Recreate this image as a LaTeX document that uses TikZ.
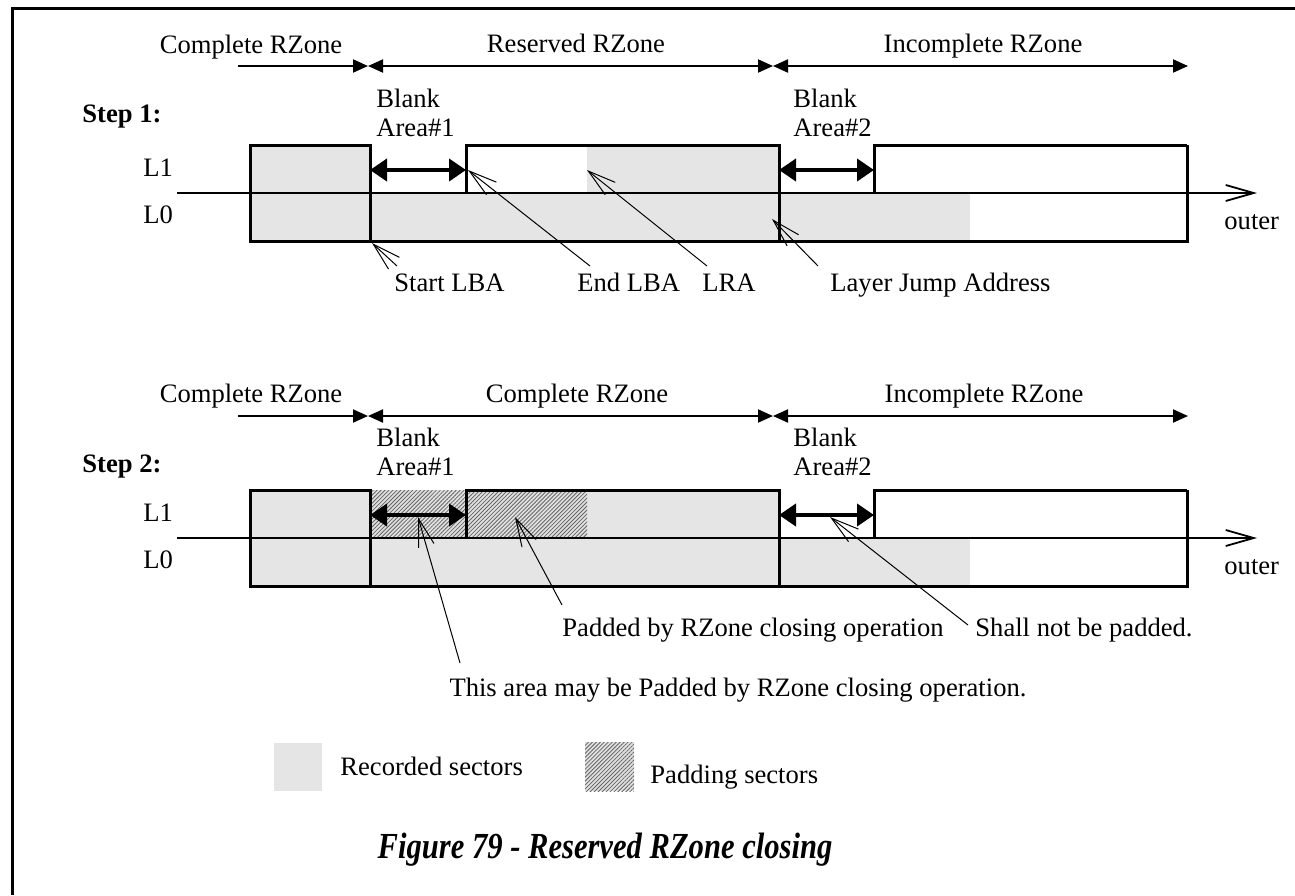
\documentclass[tikz,border=0pt]{standalone}
\usepackage{fontspec}
\setmainfont{Liberation Serif}
\usepackage{graphicx}
\usetikzlibrary{arrows.meta,patterns.meta}

\begin{document}
\begin{tikzpicture}[x=0.5pt,y=-0.5pt,font=\fontsize{13.3}{14.5}\selectfont,
  every node/.style={inner sep=0pt},
  ztip/.tip={Triangle[length=7.5pt,width=6.5pt]},
  btip/.tip={Triangle[length=8.5pt,width=11pt]},
  rec/.style={fill=black!10},
  pad/.style={preaction={fill=black!12},pattern={Lines[angle=45,distance=1.4pt,line width=0.4pt]},pattern color=black!60},
  box/.style={line width=1.5pt},
  axis/.style={line width=0.9pt,-{Straight Barb[length=14pt,width=8pt]}},
  zone/.style={line width=1pt},
  blank/.style={line width=2pt,{btip}-{btip}},
  ptr/.style={line width=0.5pt,-{Straight Barb[length=14pt,width=8pt]}},
  lbl/.style={anchor=base west,align=left},
  stp/.style={anchor=base west,font=\fontsize{13.3}{14.5}\selectfont\bfseries}]
  \useasboundingbox (0,0) rectangle (1295,895);
  \draw[line width=1.5pt] (12,895) -- (12,8) -- (1295,8);

  % step 1
  \node[anchor=base] (cz1) at (251,53) {Complete RZone};
  \node[anchor=base] (rz1) at (576,52) {Reserved RZone};
  \node[anchor=base] (iz1) at (983,52) {Incomplete RZone};
  \coordinate (za1) at (238,66);
  \coordinate (zb1) at (368,66);
  \coordinate (zc1) at (773,66);
  \coordinate (zd1) at (1188,66);
  \draw[zone,-{ztip}] (za1) -- (zb1);
  \draw[zone,{ztip}-{ztip}] (zb1) -- (zc1);
  \draw[zone,{ztip}-{ztip}] (zc1) -- (zd1);
  \node[stp] (st1) at (82,122) {Step 1:};
  \node[lbl] (ba1) at (376,136) {Blank\\Area\#1};
  \node[lbl] (bb1) at (793,136) {Blank\\Area\#2};
  \node[lbl] (la1) at (143,176) {L1};
  \node[lbl] (lo1) at (143,223) {L0};
  \fill[rec] (250,193) rectangle (970,241);
  \fill[rec] (250,145) rectangle (370,193);
  \fill[rec] (587,145) rectangle (779,193);
  \draw[box] (1187,145) -- (1187,241) -- (250,241) -- (250,145) -- (370,145) -- (370,241);
  \draw[box] (466,193) |- (779,145) -- (779,241);
  \draw[box] (874,193) |- (1187,145);
  \coordinate (ax1) at (177,193);
  \coordinate (ay1) at (1257,193);
  \draw[axis] (ax1) -- (ay1);
  \node[lbl] (ou1) at (1224,229) {outer};
  \coordinate (bl1) at (370,170);
  \coordinate (br1) at (466,170);
  \coordinate (bl2) at (779,170);
  \coordinate (br2) at (874,170);
  \draw[blank] (bl1) -- (br1);
  \draw[blank] (bl2) -- (br2);
  \node[lbl] (slba) at (394,291) {Start LBA};
  \node[lbl] (elba) at (577,291) {End LBA};
  \node[lbl] (lra) at (702,291) {LRA};
  \node[lbl] (lja) at (830,291) {Layer Jump Address};
  \coordinate (slbat) at (397,266);
  \coordinate (elbat) at (590,266);
  \coordinate (lrat) at (707,266);
  \coordinate (ljat) at (818,266);
  \draw[ptr] (slbat) -- (372,243) coordinate (slbah);
  \draw[ptr] (elbat) -- (468,170) coordinate (elbah);
  \draw[ptr] (lrat) -- (587,170) coordinate (lrah);
  \draw[ptr] (ljat) -- (772,219) coordinate (ljah);

  % step 2
  \node[anchor=base] (cz2) at (251,402) {Complete RZone};
  \node[anchor=base] (rz2) at (577,402) {Complete RZone};
  \node[anchor=base] (iz2) at (984,402) {Incomplete RZone};
  \coordinate (za2) at (238,416);
  \coordinate (zb2) at (368,416);
  \coordinate (zc2) at (773,416);
  \coordinate (zd2) at (1188,416);
  \draw[zone,-{ztip}] (za2) -- (zb2);
  \draw[zone,{ztip}-{ztip}] (zb2) -- (zc2);
  \draw[zone,{ztip}-{ztip}] (zc2) -- (zd2);
  \node[stp] (st2) at (82,472) {Step 2:};
  \node[lbl] (ba2) at (376,475) {Blank\\Area\#1};
  \node[lbl] (bb2) at (793,475) {Blank\\Area\#2};
  \node[lbl] (la2) at (143,521) {L1};
  \node[lbl] (lo2) at (143,568) {L0};
  \begin{scope}[shift={(0,345)}]
    \fill[rec] (250,193) rectangle (970,241);
    \fill[rec] (250,145) rectangle (370,193);
    \fill[rec] (587,145) rectangle (779,193);
    \path[pad] (370,145) rectangle (587,193);
    \draw[box] (1187,145) -- (1187,241) -- (250,241) -- (250,145) -- (370,145) -- (370,241);
    \draw[box] (466,193) |- (779,145) -- (779,241);
    \draw[box] (874,193) |- (1187,145);
    \coordinate (ax2) at (177,193);
    \coordinate (ay2) at (1257,193);
    \draw[axis] (ax2) -- (ay2);
    \coordinate (bl3) at (370,170);
    \coordinate (br3) at (466,170);
    \coordinate (bl4) at (779,170);
    \coordinate (br4) at (874,170);
    \draw[blank] (bl3) -- (br3);
    \draw[blank] (bl4) -- (br4);
  \end{scope}
  \node[lbl] (ou2) at (1224,574) {outer};
  \node[lbl] (padop) at (562,636) {Padded by RZone closing operation};
  \node[lbl] (nopad) at (975,636) {Shall not be padded.};
  \node[anchor=base] (mayp) at (738,696) {This area may be Padded by RZone closing operation.};
  \coordinate (mayt) at (460,663);
  \coordinate (padt) at (562,605);
  \coordinate (nopt) at (968,625);
  \draw[ptr] (mayt) -- (418,517) coordinate (mayh);
  \draw[ptr] (padt) -- (515,517) coordinate (padh);
  \draw[ptr] (nopt) -- (830,517) coordinate (noph);

  % legend
  \fill[rec] (274,743) rectangle (322,791);
  \node[lbl] (recs) at (340,775) {Recorded sectors};
  \path[pad] (585,742) rectangle (634,791);
  \node[lbl] (pads) at (650,783) {Padding sectors};

  \node[anchor=base,font=\fontsize{15.3}{17}\selectfont\bfseries\itshape] (cap) at (605,858)
    {\scalebox{1}[1.2]{Figure 79 - Reserved RZone closing}};
\end{tikzpicture}
\end{document}
